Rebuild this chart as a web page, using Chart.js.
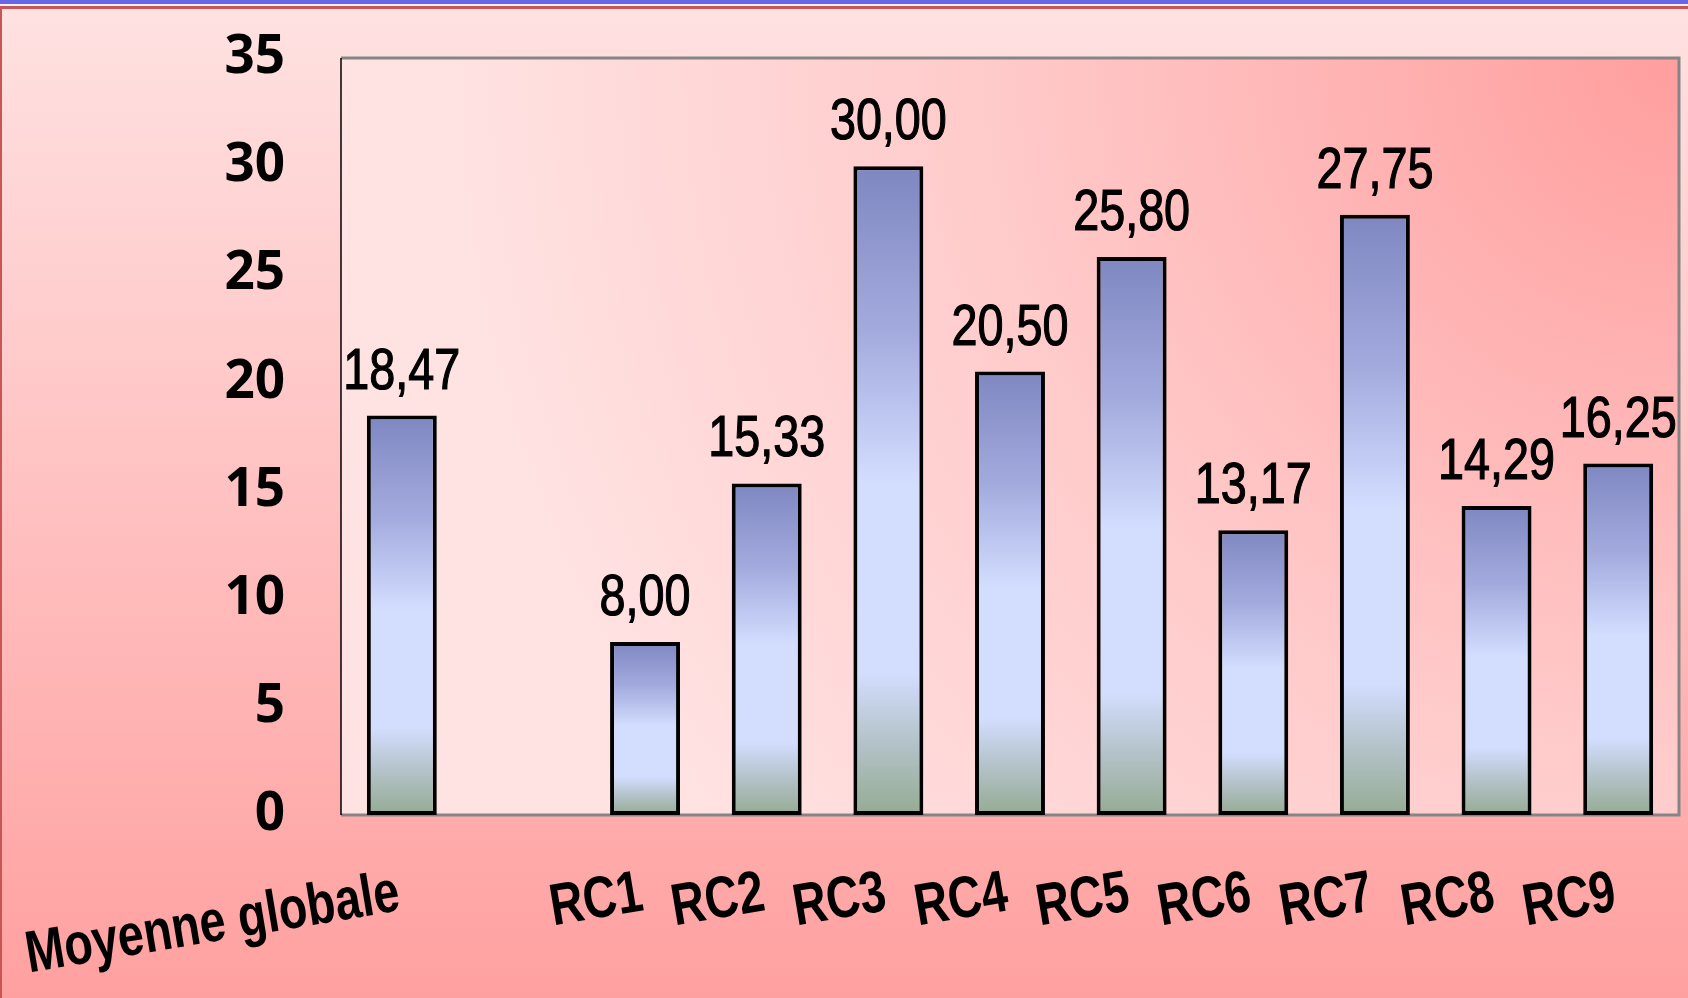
<!DOCTYPE html>
<html>
<head>
<meta charset="utf-8">
<script src="https://cdn.jsdelivr.net/npm/chart.js"></script>
<style>
  html, body { margin: 0; padding: 0; background: #ffe0e0; }
  canvas { display: block; }
</style>
</head>
<body>
<canvas id="moyennesChart" width="1688" height="998"></canvas>

<script>

// categories and values (empty slot after the overall mean)
var categories = ['Moyenne globale', '', 'RC1', 'RC2', 'RC3', 'RC4', 'RC5', 'RC6', 'RC7', 'RC8', 'RC9'];
var valeurs = [18.47, null, 8.00, 15.33, 30.00, 20.50, 25.80, 13.17, 27.75, 14.29, 16.25];
var yTicks = [0, 5, 10, 15, 20, 25, 30, 35];

var police = "'Liberation Sans', Arial, sans-serif";

function formatFr(v) {
    return v.toFixed(2).replace('.', ',');
}

// degrade bleu -> lavande -> vert gris, propre a chaque barre
function degradeBarre(context) {
    var chart = context.chart;
    if (!chart.chartArea || context.raw == null) return '#c8d2f5';
    var y = chart.scales.y;
    var haut = y.getPixelForValue(context.raw);
    var bas = y.getPixelForValue(0);
    var g = chart.ctx.createLinearGradient(0, haut, 0, bas);
    g.addColorStop(0, '#7f87c2');
    g.addColorStop(0.25, '#a2aadd');
    g.addColorStop(0.49, '#d3deff');
    g.addColorStop(0.78, '#d3deff');
    g.addColorStop(0.89, '#b3c2c8');
    g.addColorStop(1, '#95ab93');
    return g;
}

// fond de la diapo, fond de la zone de trace et cadre
var fondPlugin = {
    id: 'fond',
    beforeDraw: function(chart) {
        var ctx = chart.ctx;
        var w = chart.width, h = chart.height;
        var a = chart.chartArea;
        ctx.save();
        var gFond = ctx.createLinearGradient(0, 0, 0, h);
        gFond.addColorStop(0, '#ffe2e2');
        gFond.addColorStop(1, '#ffa0a0');
        ctx.fillStyle = gFond;
        ctx.fillRect(0, 0, w, h);

        // bandeau en haut et bord gauche
        ctx.fillStyle = '#6666e6';
        ctx.fillRect(0, 0, w, 4);
        ctx.fillStyle = '#f4f0ff';
        ctx.fillRect(0, 4, w, 2);
        ctx.fillStyle = '#c85656';
        ctx.fillRect(0, 6, w, 3);
        ctx.fillRect(0, 6, 2, h);

        // zone de trace
        var gZone = ctx.createRadialGradient(a.right, a.top, 0, a.right, a.top, 1250);
        gZone.addColorStop(0, '#ff9e9e');
        gZone.addColorStop(0.55, '#ffcaca');
        gZone.addColorStop(1, '#ffe3e3');
        ctx.fillStyle = gZone;
        ctx.fillRect(a.left, a.top, a.right - a.left, a.bottom - a.top);

        ctx.strokeStyle = '#858585';
        ctx.lineWidth = 3;
        ctx.beginPath();
        ctx.moveTo(a.left, a.top);
        ctx.lineTo(a.right, a.top);
        ctx.lineTo(a.right, a.bottom);
        ctx.lineTo(a.left, a.bottom);
        ctx.stroke();
        ctx.strokeStyle = '#000';
        ctx.lineWidth = 1.5;
        ctx.beginPath();
        ctx.moveTo(a.left, a.top);
        ctx.lineTo(a.left, a.bottom);
        ctx.stroke();
        ctx.restore();
    }
};

// etiquettes de valeur au-dessus des barres et libelles inclines de l'axe x (police etroite)
var textesPlugin = {
    id: 'textes',
    afterDatasetsDraw: function(chart) {
        var ctx = chart.ctx;
        var meta = chart.getDatasetMeta(0);
        ctx.save();
        ctx.fillStyle = '#000';
        ctx.strokeStyle = '#000';
        ctx.lineWidth = 1.2;
        ctx.font = '57px ' + police;
        ctx.textAlign = 'center';
        ctx.textBaseline = 'alphabetic';
        meta.data.forEach(function(bar, i) {
            var v = valeurs[i];
            if (v == null) return;
            ctx.save();
            ctx.translate(bar.x, bar.y - 27);
            ctx.scale(0.82, 1);
            ctx.fillText(formatFr(v), 0, 0);
            ctx.strokeText(formatFr(v), 0, 0);
            ctx.restore();
        });

        var xs = chart.scales.x;
        ctx.font = 'bold 59px ' + police;
        ctx.textAlign = 'right';
        categories.forEach(function(lab, i) {
            if (!lab) return;
            ctx.save();
            ctx.translate(xs.getPixelForTick(i), 910);
            ctx.rotate(-9.5 * Math.PI / 180);
            ctx.scale(0.79, 1);
            ctx.fillText(lab, 0, 0);
            ctx.restore();
        });
        ctx.restore();
    }
};

var ctx = document.getElementById('moyennesChart').getContext('2d');
var chart = new Chart(ctx, {
    type: 'bar',
    data: {
        labels: categories,
        datasets: [{
            data: valeurs,
            backgroundColor: degradeBarre,
            borderColor: '#000',
            borderWidth: 4,
            borderSkipped: false,
            barPercentage: 0.575,
            categoryPercentage: 1
        }]
    },
    options: {
        responsive: false,
        animation: false,
        layout: { padding: { top: 58, right: 9, left: 0, bottom: 0 } },
        plugins: {
            legend: { display: false },
            tooltip: { enabled: false }
        },
        scales: {
            x: {
                grid: { display: false, drawTicks: false },
                border: { display: false },
                ticks: { display: false },
                afterFit: function(scale) { scale.height = 183; }
            },
            y: {
                min: 0,
                max: 35,
                // tick marks hidden; tickLength only sets the gap to the labels
                grid: { display: false, drawTicks: true, tickLength: 50 },
                border: { display: false },
                afterBuildTicks: function(scale) {
                    scale.ticks = yTicks.map(function(v) { return { value: v }; });
                },
                ticks: {
                    color: '#000',
                    font: { family: "'Open Sans', sans-serif", size: 53, weight: 'bold' },
                    padding: 6
                },
                afterFit: function(scale) { scale.width = 341; }
            }
        }
    },
    plugins: [fondPlugin, textesPlugin]
});

</script>
</body>
</html>
